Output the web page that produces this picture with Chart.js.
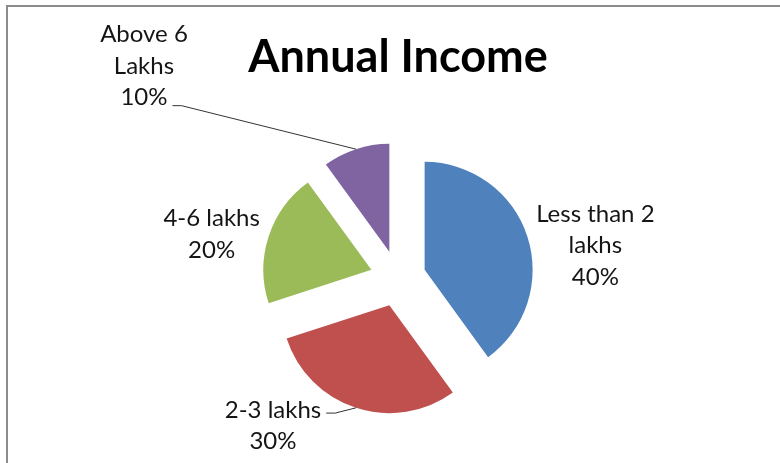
<!DOCTYPE html>
<html lang="en">
<head>
    <meta charset="UTF-8">
    <title>Annual Income</title>
    <script src="https://cdn.jsdelivr.net/npm/chart.js"></script>
    <style>
        body {
            margin: 0;
            background: #fff;
            overflow: hidden;
        }
        .frame {
            position: absolute;
            left: 6px;
            top: 5px;
            width: 800px;
            height: 470px;
            border-left: 2px solid #8c8c8c;
            border-top: 2px solid #8c8c8c;
        }
        #incomeChart {
            display: block;
        }
    </style>
</head>
<body>
    <div class="frame">
        <canvas id="incomeChart" width="780" height="470"></canvas>
    </div>

    <script>
        const categories = ['Less than 2 lakhs', '2-3 lakhs', '4-6 lakhs', 'Above 6 Lakhs'];
        const shares = [40, 30, 20, 10];
        const sliceColors = ['#4F81BD', '#C0504D', '#9BBB59', '#8064A2'];
        // how the category names wrap in the data labels
        const labelLines = [['Less than 2', 'lakhs'], ['2-3 lakhs'], ['4-6 lakhs'], ['Above 6', 'Lakhs']];

        const EXPLODE = 28;
        const FONT = 'Lato, "Open Sans", sans-serif';

        // label block centre relative to the outer edge of its slice,
        // plus which line (if any) gets a leader line back to the slice
        const labelPlacement = [
            { dx: 68, dy: 9 },
            { dx: -83, dy: 18, leader: 0, leaderDy: 3 },
            { dx: -57, dy: -2 },
            { dx: -212, dy: -83, leader: 2, leaderDy: 8 }
        ];

        // pull every slice out from the centre along its mid angle
        const explodedSlices = {
            id: 'explodedSlices',
            beforeDatasetDraw(chart, args) {
                const ctx = chart.ctx;
                args.meta.data.forEach(arc => {
                    const mid = (arc.startAngle + arc.endAngle) / 2;
                    ctx.save();
                    ctx.translate(Math.cos(mid) * EXPLODE, Math.sin(mid) * EXPLODE);
                    arc.draw(ctx, chart.chartArea);
                    ctx.restore();
                });
                return false;
            }
        };

        const sliceLabels = {
            id: 'sliceLabels',
            afterDatasetsDraw(chart) {
                const ctx = chart.ctx;
                const meta = chart.getDatasetMeta(0);
                const total = shares.reduce((a, b) => a + b, 0);
                const lineHeight = 31.5;

                ctx.save();
                ctx.font = '24px ' + FONT;
                ctx.fillStyle = '#151515';
                ctx.textAlign = 'center';
                ctx.textBaseline = 'middle';

                meta.data.forEach((arc, i) => {
                    const mid = (arc.startAngle + arc.endAngle) / 2;
                    const r = arc.outerRadius + EXPLODE;
                    const edgeX = arc.x + Math.cos(mid) * r;
                    const edgeY = arc.y + Math.sin(mid) * r;
                    const place = labelPlacement[i];
                    const lines = labelLines[i].concat([Math.round(shares[i] / total * 100) + '%']);
                    const cx = edgeX + place.dx;
                    const cy = edgeY + place.dy;

                    lines.forEach((line, j) => {
                        const y = cy + (j - (lines.length - 1) / 2) * lineHeight;
                        ctx.fillText(line, cx, y);

                        if (place.leader === j) {
                            const startX = cx + ctx.measureText(line).width / 2 + 5;
                            const startY = y + place.leaderDy;
                            ctx.beginPath();
                            ctx.moveTo(startX, startY);
                            ctx.lineTo(startX + 9, startY);
                            ctx.lineTo(edgeX, edgeY);
                            ctx.strokeStyle = '#333';
                            ctx.lineWidth = 1;
                            ctx.stroke();
                        }
                    });
                });
                ctx.restore();
            }
        };

        new Chart(document.getElementById('incomeChart'), {
            type: 'pie',
            data: {
                labels: categories,
                datasets: [{
                    data: shares,
                    backgroundColor: sliceColors,
                    borderWidth: 0
                }]
            },
            options: {
                responsive: false,
                animation: false,
                radius: 108,
                layout: {
                    padding: { bottom: 4 }
                },
                plugins: {
                    legend: { display: false },
                    tooltip: { enabled: false },
                    title: {
                        display: true,
                        text: 'Annual Income',
                        color: '#000',
                        font: { family: FONT, size: 45, weight: 'bold' },
                        padding: { top: 23, bottom: 0 }
                    }
                }
            },
            plugins: [explodedSlices, sliceLabels]
        });
    </script>
</body>
</html>
